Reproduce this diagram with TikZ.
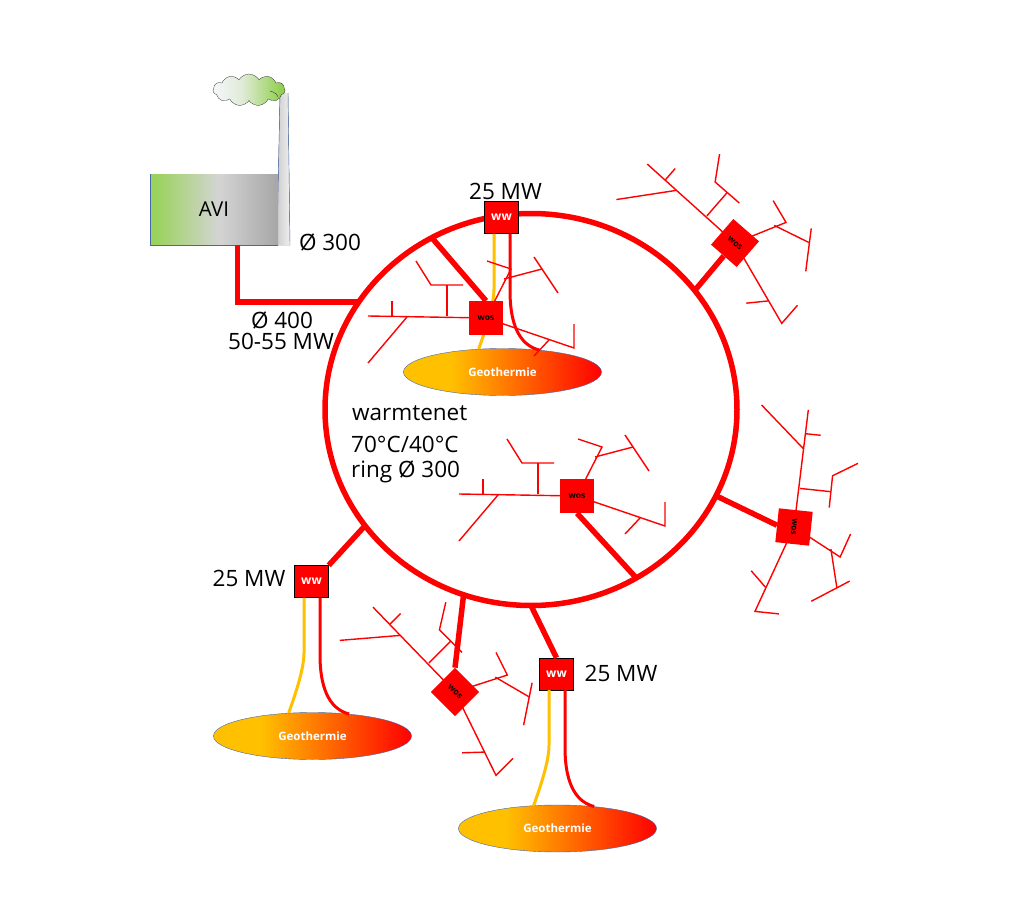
\documentclass[tikz,border=0pt]{standalone}
\usepackage{fontspec}
\setmainfont{Open Sans}
\usepackage{xcolor}
\usetikzlibrary{shapes.geometric, shapes.symbols, calc}
\definecolor{pipered}{RGB}{255, 0, 0}
\definecolor{pipeyellow}{RGB}{255, 192, 0}
\definecolor{edgeblue}{RGB}{68, 104, 170}
\pgfdeclarehorizontalshading{geoshade}{100bp}{color(0bp)=(pipeyellow); color(37bp)=(pipeyellow); color(75bp)=(pipered); color(100bp)=(pipered)}
\definecolor{avigreen}{RGB}{154, 210, 92}
\definecolor{avilight}{RGB}{212, 212, 212}
\definecolor{avidark}{RGB}{166, 166, 166}
\pgfdeclarehorizontalshading{avishade}{100bp}{color(0bp)=(avigreen); color(27bp)=(avigreen); color(52bp)=(avilight); color(75bp)=(avidark); color(100bp)=(avidark)}
\definecolor{chimleft}{RGB}{205, 205, 205}
\definecolor{chimright}{RGB}{240, 240, 240}
\pgfdeclarehorizontalshading{chimshade}{100bp}{color(0bp)=(chimleft); color(25bp)=(chimleft); color(75bp)=(chimright); color(100bp)=(chimright)}
\definecolor{cloudleft}{RGB}{244, 247, 250}
\definecolor{cloudmid}{RGB}{224, 235, 216}
\definecolor{cloudright}{RGB}{146, 208, 80}
\pgfdeclarehorizontalshading{cloudshade}{100bp}{color(0bp)=(cloudleft); color(25bp)=(cloudleft); color(45bp)=(cloudmid); color(72bp)=(cloudright); color(100bp)=(cloudright)}
\tikzset{
    mainpipe/.style={pipered, line width=5.5pt},
    branch/.style={pipered, line width=1.4pt},
    hotpipe/.style={pipered, line width=3pt},
    coldpipe/.style={pipeyellow, line width=3pt},
    wwbox/.style={draw=black, fill=pipered, text=white, font=\fontsize{12}{12}\selectfont\bfseries,
                  minimum width=34pt, minimum height=32pt, inner sep=0pt},
    wosbox/.style={fill=pipered, text=black, font=\fontsize{8.5}{9}\selectfont\bfseries,
                   minimum width=34pt, minimum height=34pt, inner sep=0pt, transform shape},
    geo/.style={ellipse, draw=edgeblue, shade, shading=geoshade, text=white,
                font=\fontsize{11.5}{11.5}\selectfont\bfseries,
                minimum width=198pt, minimum height=47pt, inner sep=0pt},
    label/.style={font=\fontsize{22.5}{22.5}\selectfont, inner sep=0pt}
}
\newcommand{\wostree}[4]{
    \begin{scope}[shift={(#2,#3)}, rotate=#4]
        \draw[branch] (0,0)--(-118,-2);
        \draw[branch] (-94,-2)--(-94,-17);
        \draw[branch] (-79,-1)--(-118,45);
        \draw[branch] (-39,-2)--(-39,-33);
        \draw[branch] (-70,-57)--(-55,-33)--(-23,-33);
        \draw[branch] (0,0)--(25,-49)--(1,-57);
        \draw[branch] (18,-39)--(56,-49);
        \draw[branch] (48,-61)--(72,-25);
        \draw[branch] (0,0)--(88,30)--(88,6);
        \draw[branch] (63,22)--(48,38);
        \node[wosbox] (#1) at (0,0) {wos};
    \end{scope}
}

\begin{document}
\begin{tikzpicture}[x=1pt, y=-1pt]
    \useasboundingbox (0,0) rectangle (1021,902);
    \fill[white] (0,0) rectangle (1021,902);

    % plant
    \fill[shade, shading=chimshade] (277,245)--(290,245)--(288,93)--(280,93)--cycle;
    \draw[edgeblue, thin] (277,245)--(280,93);
    \draw[edgeblue, thin] (290,245)--(288,93);
    \node[cloud, cloud puffs=11, cloud puff arc=120, aspect=2.2, draw=black, very thin,
          shade, shading=cloudshade, minimum width=72pt, minimum height=32pt, inner sep=0pt]
        (smoke) at (249,90) {};
    \draw[black, very thin] (270,91) .. controls (274,92) and (277,94) .. (278,97);
    \node[shade, shading=avishade, minimum width=128pt, minimum height=71pt, inner sep=0pt,
          font=\fontsize{20.5}{20.5}\selectfont] (avi) at (214,209.5) {AVI};
    \draw[edgeblue, thin] (avi.north west)--(avi.south west)--(avi.south east);

    % ring
    \node[ellipse, draw=pipered, line width=5.5pt, minimum width=412pt, minimum height=392pt,
          inner sep=0pt, outer sep=0pt] (ring) at (531,409.5) {};
    \draw[mainpipe] ([xshift=23.5pt]avi.south) |- (ring.148);

    % heat stations
    \foreach \n/\x/\y in {A/501.5/217.5, B/311.5/581.5, C/556.5/674}{
        \node[geo] (geo\n) at (\x+1,\y+154.5) {Geothermie};
        \node[wwbox] (ww\n) at (\x,\y) {ww};
        \draw[coldpipe] ([xshift=-7.5pt]ww\n.south) -- ++(0,55)
            .. controls +(0,17) and +(6,-17) .. (geo\n.136);
        \draw[hotpipe] ([xshift=8.5pt]ww\n.south) -- ++(0,57)
            .. controls +(0,40) and +(-16,-4) .. (geo\n.31);
    }
    \draw[mainpipe] (ring.215.6)--(wwB.north east);
    \draw[mainpipe] (ring.270)--(wwC.north);

    % local networks
    \wostree{wosA}{486}{318}{0}
    \wostree{wosB}{735}{243}{-41}
    \wostree{wosC}{794}{527}{-96}
    \wostree{wosD}{577}{496}{0}
    \wostree{wosE}{455}{692}{-45}
    \draw[mainpipe] (ring.120.7)--(wosA.north);
    \draw[mainpipe] (ring.36.1)--(wosB.south);
    \draw[mainpipe] (ring.-25.9)--(wosC.south);
    \draw[mainpipe] (ring.-58.7)--(wosD.south);
    \draw[mainpipe] (ring.250.7)--(wosE.north west);

    % labels
    \node[label] (mwA) at (505.5,191) {25 MW};
    \node[label] (mwB) at (249,578) {25 MW};
    \node[label] (mwC) at (621,673) {25 MW};
    \node[label] (stack) at (330,242) {Ø 300};
    \node[label] (feed) at (282,320) {Ø 400};
    \node[label] (power) at (281,341) {50-55 MW};
    \node[label, anchor=west] (net) at (352,413) {warmtenet};
    \node[label, anchor=west] (temp) at (351,444) {70°C/40°C};
    \node[label, anchor=west] (dia) at (351,472) {ring Ø 300};
\end{tikzpicture}
\end{document}
